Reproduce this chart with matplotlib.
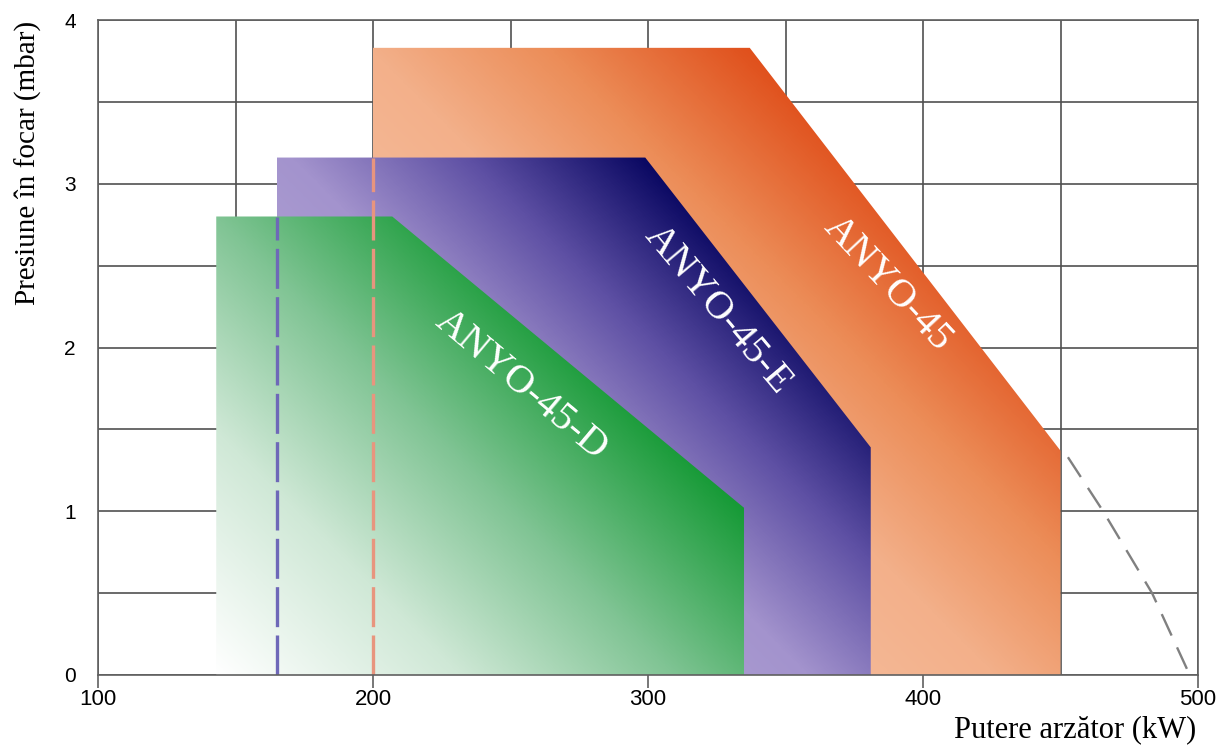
import numpy as np
import matplotlib
matplotlib.use("Agg")
import matplotlib.pyplot as plt
from matplotlib.patches import Polygon
from matplotlib.colors import LinearSegmentedColormap

# ---------------- data ----------------
series_names = ["ANYO-45", "ANYO-45-E", "ANYO-45-D"]
anyo45_x = [200, 200, 337, 450, 450]
anyo45_y = [0, 3.83, 3.83, 1.37, 0]
anyo45e_x = [165, 165, 299, 381, 381]
anyo45e_y = [0, 3.16, 3.16, 1.39, 0]
anyo45d_x = [143, 143, 207, 335, 335]
anyo45d_y = [0, 2.80, 2.80, 1.02, 0]
limit_x = [452.7, 465.5, 483.3, 497.0]
limit_y = [1.33, 1.0, 0.5, 0.0]
blue_dash_x = [165, 165]
blue_dash_y = [0, 2.80]
orange_dash_x = [200, 200]
orange_dash_y = [0, 3.16]
x_ticks = [100, 200, 300, 400, 500]
y_ticks = [0, 1, 2, 3, 4]
label_pos = [(387, 2.39), (325.5, 2.23), (254, 1.77)]
label_rot = [-47, -50, -40]

W, H = 1224, 754
fig = plt.figure(figsize=(W / 100, H / 100), dpi=100)
ax = fig.add_axes([98 / W, 1 - 675 / H, 1100 / W, 655 / H])
ax.set_xlim(100, 500)
ax.set_ylim(0, 4)

PX_X = 1100 / 400.0
PX_Y = 655 / 4.0


def grad_fill(xs, ys, stops, z):
    poly = Polygon(np.column_stack([xs, ys]), closed=True, facecolor="none",
                   edgecolor="none", transform=ax.transData)
    ax.add_patch(poly)
    x0, x1 = min(xs), max(xs)
    y0, y1 = min(ys), max(ys)
    X, Y = np.meshgrid(np.linspace(x0, x1, 500), np.linspace(y0, y1, 500))
    u = (X - x0) * PX_X + (Y - y0) * PX_Y
    umax = max((x - x0) * PX_X + (y - y0) * PX_Y for x, y in zip(xs, ys))
    t = u / umax
    cmap = LinearSegmentedColormap.from_list("g", stops)
    img = ax.imshow(t, extent=(x0, x1, y0, y1), origin="lower", cmap=cmap,
                    vmin=0, vmax=1, aspect="auto", zorder=z,
                    interpolation="bilinear")
    img.set_clip_path(poly)


grad_fill(anyo45_x, anyo45_y,
          [(0.0, "#f9d4be"), (0.62, "#f3b08a"), (0.8, "#ec8d58"), (1.0, "#e0501c")], 2)
grad_fill(anyo45e_x, anyo45e_y,
          [(0.0, "#c8bde2"), (0.6, "#a393cd"), (0.8, "#5e50a4"), (1.0, "#0a0862")], 3)
grad_fill(anyo45d_x, anyo45d_y,
          [(0.0, "#ffffff"), (0.35, "#cfe8d6"), (0.66, "#80c494"), (1.0, "#169a36")], 4)

ax.plot(blue_dash_x, blue_dash_y, color="#6e68b8", lw=2.4,
        dashes=(12, 2.5), zorder=5)
ax.plot(orange_dash_x, orange_dash_y, color="#e8957e", lw=2.4,
        dashes=(12, 2.5), zorder=5)
ax.plot(limit_x, limit_y, color="#808080", lw=1.7, dashes=(10, 5.5), zorder=5)

for name, (lx, ly), rot in zip(series_names, label_pos, label_rot):
    ax.text(lx, ly, name, color="white", fontsize=29, family="Liberation Serif",
            rotation=rot, rotation_mode="anchor", ha="center", va="center",
            zorder=6)

# grid and frame
ax.set_xticks(x_ticks)
ax.set_yticks(y_ticks)
ax.set_xticks(np.arange(150, 500, 100), minor=True)
ax.set_yticks(np.arange(0.5, 4, 1.0), minor=True)
ax.grid(True, which="both", color="#505050", lw=1.2, zorder=0)
ax.set_axisbelow(True)
for s in ax.spines.values():
    s.set_color("#606060")
    s.set_linewidth(1.2)
    s.set_zorder(7)
ax.tick_params(axis="x", which="major", length=9, width=1.2, color="#606060",
               pad=1, labelsize=16, labelcolor="black")
ax.tick_params(axis="y", which="major", length=0, pad=16, labelsize=15)
ax.tick_params(which="minor", length=0)
for lab in ax.get_xticklabels() + ax.get_yticklabels():
    lab.set_family("Liberation Sans")

ax.set_xlabel("Putere arzător (kW)", family="Liberation Serif", fontsize=22,
              ha="center", va="center")
ax.xaxis.set_label_coords((1075 - 98) / 1100, (675 - 730) / 655)
ax.set_ylabel("Presiune în focar (mbar)", family="Liberation Serif", fontsize=21,
              ha="center", va="center")
ax.yaxis.set_label_coords((28 - 98) / 1100, (675 - 163) / 655)

fig.savefig("out.png", dpi=100)
